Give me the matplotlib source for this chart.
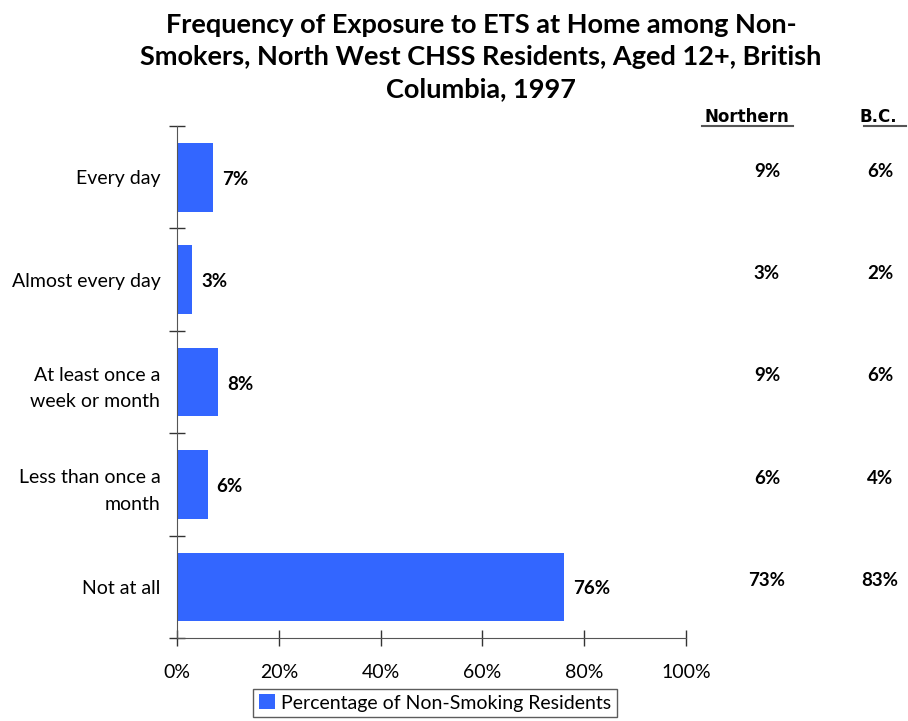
import matplotlib.pyplot as plt
from matplotlib.ticker import FuncFormatter

categories = ['Every day', 'Almost every day', 'At least once a\nweek or month',
              'Less than once a\nmonth', 'Not at all']
nw_values = [7, 3, 8, 6, 76]
northern = ['9%', '3%', '9%', '6%', '73%']
bc = ['6%', '2%', '6%', '4%', '83%']

plt.rcParams['font.family'] = ['Lato', 'DejaVu Sans']

fig = plt.figure(figsize=(9.08, 7.21), dpi=100)
ax = fig.add_axes([0.1949, 0.1151, 0.5606, 0.7101])

ypos = list(range(len(categories)))
bars = ax.barh(ypos, nw_values, height=0.67, color='#3366ff',
               label='Percentage of Non-Smoking Residents')
ax.set_ylim(4.5, -0.5)
ax.set_xlim(0, 100)

for y, v in zip(ypos, nw_values):
    ax.text(v + 1.8, y + 0.02, f'{v}%', va='center', ha='left',
            fontsize=13.5, fontweight='bold')

# category ticks between bars
ax.set_yticks([i - 0.5 for i in range(len(categories) + 1)])
ax.set_yticklabels([])
ax.set_yticks(ypos, minor=True)
ax.set_yticklabels(categories, minor=True, fontsize=14, linespacing=1.7)
ax.tick_params(axis='y', which='minor', length=0, pad=12)
ax.tick_params(axis='y', which='major', direction='inout', length=12,
               width=1, color='#333333')

ax.set_xticks([0, 20, 40, 60, 80, 100])
ax.xaxis.set_major_formatter(FuncFormatter(lambda x, p: f'{x:.0f}%'))
ax.tick_params(axis='x', direction='inout', length=12, width=1,
               color='#333333', labelsize=14, pad=13)

for s in ['top', 'right']:
    ax.spines[s].set_visible(False)
ax.spines['left'].set_color('#555555')
ax.spines['bottom'].set_color('#555555')

# right-side comparison columns
fig.text(747 / 908, 1 - 117 / 721, 'Northern', ha='center', va='center',
         fontsize=12, fontweight='bold', family=['DejaVu Sans'])
fig.text(878 / 908, 1 - 117 / 721, 'B.C.', ha='center', va='center',
         fontsize=12, fontweight='bold', family=['DejaVu Sans'])
fig.add_artist(plt.Line2D([702 / 908, 793 / 908], [1 - 126 / 721] * 2,
                          color='#555555', lw=1.5))
fig.add_artist(plt.Line2D([864 / 908, 906 / 908], [1 - 126 / 721] * 2,
                          color='#555555', lw=1.5))
for y, n, b in zip(ypos, northern, bc):
    ax.text(1.159, y - 0.06, n, transform=ax.get_yaxis_transform(),
            ha='center', va='center', fontsize=13.5, fontweight='bold')
    ax.text(1.381, y - 0.06, b, transform=ax.get_yaxis_transform(),
            ha='center', va='center', fontsize=13.5, fontweight='bold')

fig.text(481 / 908, 1 - 57 / 721,
         'Frequency of Exposure to ETS at Home among Non-\n'
         'Smokers, North West CHSS Residents, Aged 12+, British\n'
         'Columbia, 1997',
         ha='center', va='center', fontsize=19.5, fontweight='bold',
         linespacing=1.42)

leg = ax.legend(loc='center', bbox_to_anchor=(0.507, -0.127), frameon=True,
                fancybox=False, fontsize=14, handlelength=0.8,
                handleheight=0.8, handletextpad=0.3, borderpad=0.3)
leg.get_frame().set_edgecolor('#333333')
leg.get_frame().set_linewidth(1)

fig.savefig('out.png', dpi=100)
